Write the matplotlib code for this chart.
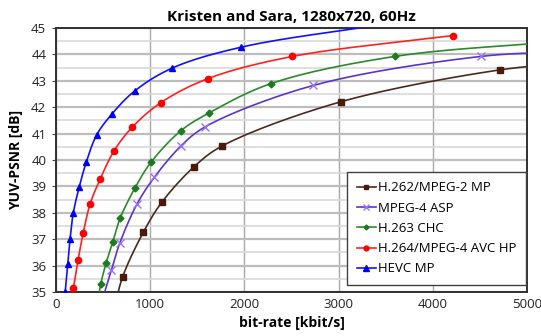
import numpy as np
import matplotlib
matplotlib.use("Agg")
from matplotlib import pyplot as plt
from matplotlib.ticker import MultipleLocator

# rate-distortion points (kbit/s, dB)
names = ["H.262/MPEG-2 MP", "MPEG-4 ASP", "H.263 CHC", "H.264/MPEG-4 AVC HP", "HEVC MP"]

mpeg2_rate = [620, 708, 927, 1122, 1462, 1765, 3022, 4713, 5400]
mpeg2_psnr = [34.4, 35.58, 37.26, 38.39, 39.73, 40.53, 42.20, 43.41, 43.65]

mpeg4_rate = [500, 589, 676, 863, 1044, 1327, 1587, 2731, 4512, 5400]
mpeg4_psnr = [34.8, 35.83, 36.84, 38.35, 39.34, 40.53, 41.26, 42.82, 43.92, 44.10]

h263_rate = [440, 475, 531, 603, 683, 839, 1008, 1327, 1626, 2282, 3599, 5400]
h263_psnr = [34.5, 35.30, 36.08, 36.90, 37.81, 38.94, 39.91, 41.11, 41.78, 42.89, 43.92, 44.50]

avc_rate = [184, 234, 290, 361, 467, 616, 807, 1114, 1614, 2511, 4216]
avc_psnr = [35.14, 36.21, 37.25, 38.32, 39.26, 40.34, 41.23, 42.17, 43.08, 43.92, 44.71]

hevc_rate = [98, 124, 149, 184, 247, 322, 432, 594, 835, 1229, 1967, 3600]
hevc_psnr = [35.01, 36.05, 37.00, 38.00, 38.98, 39.92, 40.95, 41.74, 42.61, 43.47, 44.27, 45.20]

xticks = [0, 1000, 2000, 3000, 4000, 5000]
yticks = list(range(35, 46))

line_colors = ["#4a2a1e", "#5a35c8", "#2b8a2b", "#ff2020", "#1010ff"]
mark_colors = ["#4a1a0a", "#9a70f0", "#1f7a1f", "#ff0000", "#0000ee"]
markers = ["s", "x", "D", "o", "^"]
msizes = [4.5, 5.5, 3.5, 4.5, 5]


def smooth(x, y, n=40):
    # centripetal catmull-rom, worked in roughly pixel-scaled units
    sx, sy = 471 / 5000.0, 264 / 10.0
    P = np.column_stack([np.asarray(x, float) * sx, np.asarray(y, float) * sy])
    P = np.vstack([2 * P[0] - P[1], P, 2 * P[-1] - P[-2]])
    out = []
    for i in range(1, len(P) - 2):
        p0, p1, p2, p3 = P[i - 1], P[i], P[i + 1], P[i + 2]
        t0 = 0.0
        t1 = t0 + np.linalg.norm(p1 - p0) ** 0.5
        t2 = t1 + np.linalg.norm(p2 - p1) ** 0.5
        t3 = t2 + np.linalg.norm(p3 - p2) ** 0.5
        t = np.linspace(t1, t2, n)[:, None]
        a1 = (t1 - t) / (t1 - t0) * p0 + (t - t0) / (t1 - t0) * p1
        a2 = (t2 - t) / (t2 - t1) * p1 + (t - t1) / (t2 - t1) * p2
        a3 = (t3 - t) / (t3 - t2) * p2 + (t - t2) / (t3 - t2) * p3
        b1 = (t2 - t) / (t2 - t0) * a1 + (t - t0) / (t2 - t0) * a2
        b2 = (t3 - t) / (t3 - t1) * a2 + (t - t1) / (t3 - t1) * a3
        out.append((t2 - t) / (t2 - t1) * b1 + (t - t1) / (t2 - t1) * b2)
    out = np.vstack(out)
    return out[:, 0] / sx, out[:, 1] / sy


plt.rcParams['font.family'] = ['Open Sans', 'DejaVu Sans']

fig = plt.figure(figsize=(5.41, 3.36), dpi=100)
ax = fig.add_axes([0.1035, 0.131, 0.8705, 0.786])

series = [(mpeg2_rate, mpeg2_psnr), (mpeg4_rate, mpeg4_psnr), (h263_rate, h263_psnr),
          (avc_rate, avc_psnr), (hevc_rate, hevc_psnr)]

for i, (r, p) in enumerate(series):
    sx, sy = smooth(r, p)
    ax.plot(sx, sy, color=line_colors[i], lw=1.2, zorder=3)
    ax.plot(r, p, linestyle="none", marker=markers[i], ms=msizes[i],
            color=mark_colors[i], mec=mark_colors[i], mew=1.0, zorder=4)
    # legend proxy
    ax.plot([], [], color=line_colors[i], lw=1.2, marker=markers[i], ms=msizes[i] - 1,
            mfc=mark_colors[i], mec=mark_colors[i], label=names[i])

ax.set_xlim(0, 5000)
ax.set_ylim(35, 45)
ax.set_xticks(xticks)
ax.set_yticks(yticks)
ax.yaxis.set_minor_locator(MultipleLocator(0.5))
ax.grid(axis="x", which="major", color="#a8a8a8", lw=1.0)
ax.grid(axis="y", which="major", color="#bdbdbd", lw=1.6)
ax.grid(axis="y", which="minor", color="#d9d9d9", lw=1.2)
ax.set_axisbelow(True)
ax.tick_params(which="both", length=0, labelsize=9.5, colors="#222222", pad=4)
ax.tick_params(axis="y", which="major", length=3, direction="out", color="#444444")
for s in ax.spines.values():
    s.set_color("#303030")
    s.set_linewidth(1.4)

ax.set_title("Kristen and Sara, 1280x720, 60Hz", fontsize=11, fontweight="bold", pad=5)
ax.set_xlabel("bit-rate [kbit/s]", fontsize=10, fontweight="bold", labelpad=4)
ax.set_ylabel("YUV-PSNR [dB]", fontsize=10, fontweight="bold", labelpad=6)

leg = ax.legend(loc="lower right", bbox_to_anchor=(0.999, 0.025), fontsize=9.5, frameon=True,
                fancybox=False, handlelength=1.4, handletextpad=0.2, labelspacing=0.55,
                borderpad=0.75, borderaxespad=0.0)
leg.get_frame().set_edgecolor("#404040")
leg.get_frame().set_linewidth(1.0)
leg.get_frame().set_alpha(1)

fig.savefig("out.png", dpi=100)
